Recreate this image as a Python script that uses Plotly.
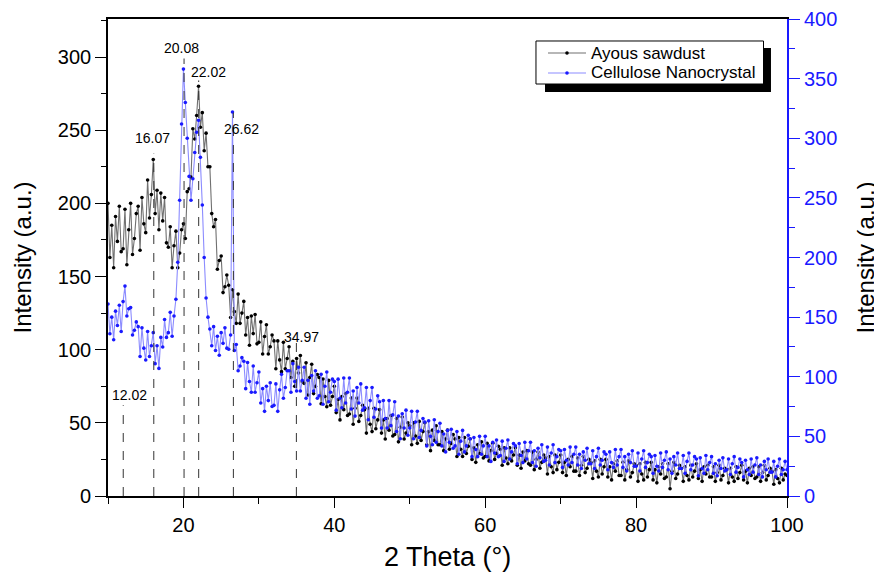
import numpy as np
import plotly.graph_objects as go

# 2-theta grid (0.25 deg step, 10..100)
two_theta = np.round(np.arange(10.0, 100.001, 0.25), 2)

ayous_sawdust = [
    200, 163, 185, 156, 191, 174, 198, 167,
    169, 196, 158, 182, 200, 165, 176, 193,
    198, 168, 204, 186, 180, 216, 190, 206,
    230, 193, 209, 182, 207, 188, 204, 173,
    170, 184, 156, 171, 181, 156, 166, 182,
    186, 176, 208, 210, 218, 251, 244, 260,
    280, 252, 262, 236, 248, 225, 225, 193,
    184, 189, 155, 161, 164, 139, 143, 151,
    144, 122, 141, 126, 118, 138, 118, 125,
    133, 110, 122, 103, 123, 111, 124, 104,
    105, 119, 97, 109, 117, 97, 102, 110,
    106, 87, 106, 93, 85, 105, 87, 94,
    102, 81, 92, 75, 94, 84, 96, 78,
    77, 91, 69, 81, 90, 70, 75, 83,
    81, 63, 80, 68, 61, 79, 62, 68,
    75, 57, 66, 52, 68, 59, 70, 55,
    56, 67, 49, 60, 67, 51, 55, 62,
    59, 43, 60, 49, 44, 60, 46, 52,
    59, 43, 52, 39, 53, 45, 55, 41,
    42, 53, 37, 47, 54, 39, 43, 50,
    48, 35, 50, 41, 36, 51, 38, 44,
    50, 35, 44, 31, 45, 38, 48, 35,
    35, 44, 31, 39, 45, 32, 36, 42,
    39, 27, 40, 32, 27, 40, 29, 34,
    39, 25, 33, 23, 35, 29, 37, 26,
    27, 36, 24, 31, 36, 25, 29, 34,
    32, 21, 33, 26, 22, 33, 24, 28,
    33, 21, 28, 19, 30, 24, 31, 22,
    21, 30, 18, 25, 30, 19, 23, 28,
    26, 15, 27, 20, 16, 28, 18, 23,
    28, 16, 23, 14, 25, 20, 27, 17,
    17, 26, 14, 21, 27, 16, 19, 25,
    23, 12, 24, 17, 13, 25, 15, 20,
    25, 13, 20, 11, 22, 17, 24, 14,
    14, 23, 11, 18, 24, 13, 16, 22,
    21, 10, 22, 15, 11, 23, 13, 18,
    23, 11, 18, 9, 20, 15, 22, 12,
    13, 22, 5, 17, 23, 12, 15, 21,
    19, 10, 20, 14, 11, 21, 13, 17,
    22, 12, 18, 10, 20, 15, 21, 13,
    13, 20, 10, 16, 21, 11, 14, 19,
    18, 9, 19, 13, 10, 20, 12, 16,
    21, 11, 17, 9, 19, 14, 20, 12,
    13, 20, 10, 16, 21, 11, 14, 19,
    17, 8, 18, 12, 9, 19, 11, 15,
    14,
]

cellulose_nanocrystal = [
    161, 136, 150, 131, 155, 143, 160, 138,
    163, 176, 151, 157, 158, 135, 139, 146,
    142, 117, 141, 124, 114, 138, 117, 126,
    137, 111, 126, 107, 133, 125, 148, 133,
    137, 154, 134, 151, 165, 196, 248, 312,
    358, 330, 300, 268, 248, 266, 288, 305,
    315, 284, 244, 200, 166, 150, 140, 126,
    142, 122, 134, 118, 137, 128, 141, 124,
    123, 135, 322, 122, 127, 105, 109, 116,
    113, 90, 112, 96, 87, 109, 87, 95,
    104, 78, 90, 71, 92, 80, 95, 75,
    76, 94, 71, 89, 102, 82, 91, 105,
    105, 87, 111, 96, 88, 108, 88, 97,
    108, 82, 97, 77, 101, 88, 105, 82,
    84, 102, 77, 92, 104, 79, 87, 98,
    96, 72, 98, 82, 74, 99, 78, 87,
    99, 73, 88, 67, 91, 78, 94, 72,
    74, 91, 64, 80, 91, 66, 73, 84,
    79, 57, 80, 65, 57, 80, 59, 68,
    79, 54, 67, 48, 69, 57, 72, 51,
    57, 71, 48, 62, 71, 49, 55, 65,
    62, 42, 63, 50, 43, 64, 45, 54,
    61, 42, 52, 37, 55, 45, 56, 40,
    42, 54, 35, 46, 55, 37, 42, 51,
    48, 33, 49, 39, 33, 50, 35, 42,
    50, 33, 42, 29, 45, 36, 47, 33,
    34, 46, 29, 40, 47, 31, 37, 44,
    42, 27, 44, 34, 28, 45, 31, 38,
    45, 28, 38, 25, 40, 32, 43, 29,
    30, 41, 26, 36, 43, 28, 33, 39,
    38, 24, 39, 30, 26, 41, 28, 35,
    41, 26, 35, 23, 37, 30, 40, 27,
    27, 38, 23, 33, 40, 26, 30, 37,
    35, 22, 37, 28, 24, 39, 26, 33,
    39, 24, 33, 21, 35, 28, 38, 25,
    25, 36, 21, 31, 38, 24, 28, 35,
    33, 19, 34, 25, 21, 36, 24, 30,
    37, 22, 31, 19, 33, 26, 36, 23,
    23, 34, 19, 29, 36, 22, 26, 33,
    31, 17, 32, 23, 19, 34, 22, 28,
    33, 19, 27, 17, 30, 23, 32, 21,
    22, 31, 18, 27, 33, 20, 24, 31,
    28, 16, 30, 22, 18, 31, 20, 26,
    32, 18, 26, 16, 29, 22, 31, 20,
    20, 29, 16, 25, 31, 18, 22, 29,
    22,
]

series_names = ["Ayous sawdust", "Cellulose Nanocrystal"]

# Peak markers: position, top of dashed line (left-axis units), label placement
peak_pos = [12.02, 16.07, 20.08, 22.02, 26.62, 34.97]
peak_line_top = [62, 234, 299, 284, 262, 105]
peak_label_x = [12.8, 15.95, 19.7, 23.3, 27.75, 35.7]
peak_label_y = [69, 245, 306, 290, 251, 109]
peak_labels = ["12.02", "16.07", "20.08", "22.02", "26.62", "34.97"]

FONT = "Liberation Sans, Arial, sans-serif"
BLUE = "#1a1aff"
BLACK_LINE = "#707070"
BLUE_LINE = "#8c8cff"

fig = go.Figure()
fig.add_trace(go.Scatter(
    x=two_theta, y=ayous_sawdust, name=series_names[0], mode="lines+markers",
    line=dict(color=BLACK_LINE, width=1.1),
    marker=dict(color="black", size=3.6),
))
fig.add_trace(go.Scatter(
    x=two_theta, y=cellulose_nanocrystal, name=series_names[1], mode="lines+markers",
    line=dict(color=BLUE_LINE, width=1.1),
    marker=dict(color=BLUE, size=3.6),
    yaxis="y2",
))

for px, top in zip(peak_pos, peak_line_top):
    fig.add_shape(type="line", x0=px, x1=px, y0=0, y1=top, xref="x", yref="y",
                  line=dict(color="#333333", width=1, dash="dash"))
for lx, ly, txt in zip(peak_label_x, peak_label_y, peak_labels):
    fig.add_annotation(x=lx, y=ly, xref="x", yref="y", text=txt, showarrow=False,
                       xanchor="center", yanchor="middle",
                       font=dict(family=FONT, size=14, color="black"))

# axis titles
fig.add_annotation(x=-0.1252, y=0.5, xref="paper", yref="paper", text="Intensity (a.u.)",
                   textangle=-90, showarrow=False, xanchor="center", yanchor="middle",
                   font=dict(family=FONT, size=24, color="black"))
fig.add_annotation(x=1.1163, y=0.5, xref="paper", yref="paper", text="Intensity (a.u.)",
                   textangle=-90, showarrow=False, xanchor="center", yanchor="middle",
                   font=dict(family=FONT, size=24, color="black"))
fig.add_annotation(x=0.5, y=-0.128, xref="paper", yref="paper", text="2 Theta (°)",
                   showarrow=False, xanchor="center", yanchor="middle",
                   font=dict(family=FONT, size=27, color="black"))

# legend box (Origin style with drop shadow)
fig.add_shape(type="rect", xref="paper", yref="paper",
              x0=0.6436, x1=0.9764, y0=0.8470, y1=0.9392,
              fillcolor="black", line=dict(width=0), layer="above")
fig.add_shape(type="rect", xref="paper", yref="paper",
              x0=0.6303, x1=0.9654, y0=0.8637, y1=0.9539,
              fillcolor="white", line=dict(color="black", width=1), layer="above")
legend_rows = [0.9287, 0.8868]
legend_line_cols = [BLACK_LINE, BLUE_LINE]
legend_dot_cols = ["black", BLUE]
for ly, name, lc, dc in zip(legend_rows, series_names, legend_line_cols, legend_dot_cols):
    fig.add_shape(type="line", xref="paper", yref="paper", x0=0.6480, x1=0.7040, y0=ly, y1=ly,
                  line=dict(color=lc, width=1.1), layer="above")
    fig.add_shape(type="circle", xref="paper", yref="paper", xsizemode="pixel", ysizemode="pixel",
                  xanchor=0.6760, yanchor=ly, x0=-1.8, x1=1.8, y0=-1.8, y1=1.8,
                  fillcolor=dc, line=dict(color=dc, width=0), layer="above")
    fig.add_annotation(x=0.7084, y=ly, xref="paper", yref="paper", text=name, showarrow=False,
                       xanchor="left", yanchor="middle",
                       font=dict(family=FONT, size=17, color="black"))

fig.update_layout(
    width=874, height=569,
    margin=dict(l=100, r=95, t=11, b=81, autoexpand=False),
    paper_bgcolor="white", plot_bgcolor="white",
    font=dict(family=FONT, size=20, color="black"),
    showlegend=False,
    xaxis=dict(
        range=[10, 100], tickvals=[20, 40, 60, 80, 100],
        ticks="outside", ticklen=10, tickwidth=1.3, tickcolor="black",
        showline=True, linecolor="black", linewidth=1.6, mirror=True,
        showgrid=False, zeroline=False, automargin=False,
        minor=dict(tickvals=[10, 30, 50, 70, 90], ticks="outside", ticklen=6, tickcolor="black"),
        tickfont=dict(size=20),
    ),
    xaxis2=dict(
        range=[10, 100], overlaying="x", side="top", anchor="y",
        tickvals=[20, 40, 60, 80, 100], ticks="inside", ticklen=9, tickwidth=1.3,
        tickcolor="black", showticklabels=False, showline=False, showgrid=False,
        zeroline=False, automargin=False,
        minor=dict(tickvals=[10, 30, 50, 70, 90], ticks="inside", ticklen=6, tickcolor="black"),
    ),
    yaxis=dict(
        range=[0, 326], dtick=50, tick0=0,
        ticks="outside", ticklen=11, tickwidth=1.3, tickcolor="black",
        showline=True, linecolor="black", linewidth=1.6, mirror=False,
        showgrid=False, zeroline=False, automargin=False,
        minor=dict(dtick=25, ticks="outside", ticklen=5, tickcolor="black"),
        tickfont=dict(size=20),
    ),
    yaxis2=dict(
        range=[0, 400], dtick=50, tick0=0, overlaying="y", side="right",
        ticks="outside", ticklen=11, tickwidth=1.3, tickcolor=BLUE,
        showline=True, linecolor=BLUE, linewidth=2,
        showgrid=False, zeroline=False, automargin=False,
        minor=dict(dtick=25, ticks="outside", ticklen=6, tickcolor=BLUE),
        tickfont=dict(size=20, color=BLUE),
    ),
)

fig.write_html("out.html")
